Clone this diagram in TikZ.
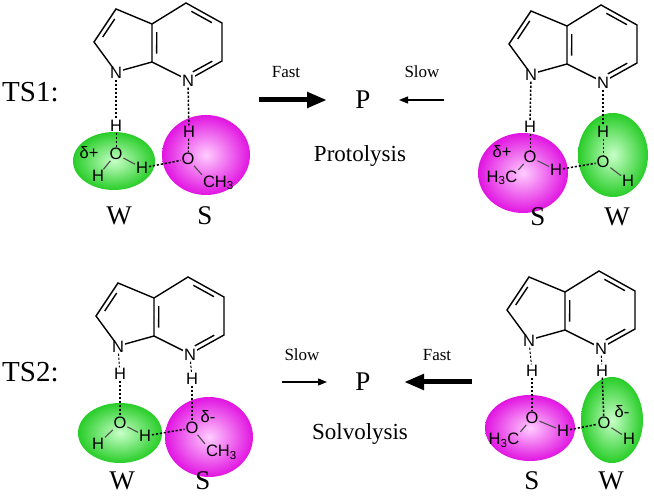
\documentclass[tikz,border=0pt]{standalone}
\usepackage{fontspec}
\setmainfont{Liberation Serif}
\newfontfamily\atomfont{Liberation Sans}
\usetikzlibrary{calc,arrows.meta}
\definecolor{gEdge}{RGB}{40,205,40}
\definecolor{gIn}{RGB}{200,255,200}
\definecolor{pEdge}{RGB}{225,20,225}
\definecolor{pIn}{RGB}{255,205,255}
\tikzset{
  bond/.style={line width=1.4pt,black},
  hb/.style={line width=1.5pt,black,dash pattern=on 2.2pt off 1.8pt},
  cov/.style={line width=1.1pt,black!70},
  atom/.style={font=\atomfont\fontsize{16.5}{16.5}\selectfont,inner sep=0.8pt},
  natom/.style={atom,fill=white},
  lab/.style={font=\fontsize{27}{27}\selectfont,inner sep=0pt},
  ts/.style={font=\fontsize{29}{29}\selectfont,inner sep=0pt},
  rate/.style={font=\fontsize{17}{17}\selectfont,inner sep=0pt},
  proc/.style={font=\fontsize{23}{23}\selectfont,inner sep=0pt},
  wball/.style={inner color=gIn,outer color=gEdge},
  sball/.style={inner color=pIn,outer color=pEdge},
}
\newcommand{\dbl}[3]{\draw[bond] ($(#1)!0.17!(#2)!5pt!(#3)$) -- ($(#2)!0.17!(#1)!5pt!(#3)$);}
\newcommand{\azamol}[1]{%
  \coordinate (#1A) at (186,3);
  \coordinate (#1B) at (222,23);
  \coordinate (#1C) at (222,61);
  \coordinate (#1E) at (152,62);
  \coordinate (#1F) at (152,24);
  \coordinate (#1P1) at (116,9);
  \coordinate (#1P2) at (94,42);
  \coordinate (#1HC) at (187,42);
  \coordinate (#1PC) at (127,40);
  \draw[bond] (#1F) -- (#1A) -- (#1B) -- (#1C) -- (188,80) -- (#1E) -- (#1F) -- (#1P1) -- (#1P2) -- (116,72) -- (#1E);
  \dbl{#1A}{#1B}{#1HC}
  \dbl{#1C}{188,80}{#1HC}
  \dbl{#1E}{#1F}{#1HC}
  \dbl{#1P1}{#1P2}{#1PC}
  \node[natom] (#1N1) at (116,73) {N};
  \node[natom] (#1Nb) at (188,81) {N};
}
\begin{document}
\begin{tikzpicture}[x=1pt,y=-1pt]
\useasboundingbox (0,0) rectangle (654,497);
\fill[white] (0,0) rectangle (654,497);

% ================= TS1 left
\shade[wball] (114,161) ellipse [x radius=41,y radius=29];
\shade[sball] (206,155) ellipse [x radius=44,y radius=40];
\azamol{a}
\node[atom] (aH1) at (116,126) {H};
\node[atom] (aO1) at (116,154) {O};
\node[atom] (aH2) at (98,176) {H};
\node[atom] (aD) at (89,153) {δ+};
\node[atom] (aH3) at (142,168) {H};
\node[atom] (aO2) at (188,159) {O};
\node[atom] (aH4) at (189,132) {H};
\node[atom,anchor=west] (aMe) at (202,183) {CH\textsubscript{3}};
\draw[hb] (aN1) -- (aH1);
\draw[hb] (aNb) -- (aH4);
\draw[hb,line width=1pt] (aH1) -- (aO1);
\draw[hb,line width=1pt] (aH4) -- (aO2);
\draw[cov] (aO1) -- (aH2);
\draw[cov] (aO1) -- (aH3);
\draw[hb] (aH3) -- (aO2);
\draw[cov] (aO2) -- (aMe.north west);
\node[lab] (aW) at (119,216) {W};
\node[lab] (aS) at (205,216) {S};
\node[ts,anchor=west] (ts1) at (2,92) {TS1:};

% ================= TS1 right
\shade[sball] (523,173) ellipse [x radius=45,y radius=40];
\shade[wball] (613,155) ellipse [x radius=35,y radius=42];
\begin{scope}[shift={(415,2)}]\azamol{b}\end{scope}
\node[atom] (bH1) at (530,127) {H};
\node[atom] (bO1) at (530,157) {O};
\node[atom] (bD) at (502,152) {δ+};
\node[atom] (bMe) at (502,178) {H\textsubscript{3}C};
\node[atom] (bH3) at (556,170) {H};
\node[atom] (bO2) at (603,162) {O};
\node[atom] (bH4) at (603,132) {H};
\node[atom] (bH5) at (628,181) {H};
\draw[hb] (bN1) -- (bH1);
\draw[hb] (bNb) -- (bH4);
\draw[hb,line width=1pt] (bH1) -- (bO1);
\draw[hb,line width=1pt] (bH4) -- (bO2);
\draw[cov] (bO1) -- (bMe.north east);
\draw[cov] (bO1) -- (bH3);
\draw[hb] (bH3) -- (bO2);
\draw[cov] (bO2) -- (bH5);
\node[lab] (bS) at (538,217) {S};
\node[lab] (bW) at (617,217) {W};

% ================= TS2 left
\shade[wball] (120,433) ellipse [x radius=42,y radius=30];
\shade[sball] (209,437) ellipse [x radius=44,y radius=40];
\begin{scope}[shift={(2,274)}]\azamol{c}\end{scope}
\node[atom] (cH1) at (120,374) {H};
\node[atom] (cO1) at (120,423) {O};
\node[atom] (cH2) at (98,444) {H};
\node[atom] (cH3) at (145,436) {H};
\node[atom] (cO2) at (192,428) {O};
\node[atom] (cH4) at (192,379) {H};
\node[atom] (cD) at (208,417) {δ-};
\node[atom,anchor=west] (cMe) at (205,452) {CH\textsubscript{3}};
\draw[hb,line width=1pt] (cN1) -- (cH1);
\draw[hb,line width=1pt] (cNb) -- (cH4);
\draw[hb] (cH1) -- (cO1);
\draw[hb] (cH4) -- (cO2);
\draw[cov] (cO1) -- (cH2);
\draw[cov] (cO1) -- (cH3);
\draw[hb] (cH3) -- (cO2);
\draw[cov] (cO2) -- (cMe.north west);
\node[lab] (cW) at (122,481) {W};
\node[lab] (cS) at (203,481) {S};
\node[ts,anchor=west] (ts2) at (2,372) {TS2:};

% ================= TS2 right
\shade[sball] (530,428) ellipse [x radius=45,y radius=33];
\shade[wball] (612,420) ellipse [x radius=31,y radius=43];
\begin{scope}[shift={(413,268)}]\azamol{d}\end{scope}
\node[atom] (dH1) at (532,371) {H};
\node[atom] (dO1) at (532,418) {O};
\node[atom] (dMe) at (504,440) {H\textsubscript{3}C};
\node[atom] (dH3) at (563,431) {H};
\node[atom] (dO2) at (604,423) {O};
\node[atom] (dH4) at (602,371) {H};
\node[atom] (dD) at (622,412) {δ-};
\node[atom] (dH5) at (629,439) {H};
\draw[hb,line width=1pt] (dN1) -- (dH1);
\draw[hb,line width=1pt] (dNb) -- (dH4);
\draw[hb] (dH1) -- (dO1);
\draw[hb] (dH4) -- (dO2);
\draw[cov] (dO1) -- (dMe.north east);
\draw[cov] (dO1) -- (dH3);
\draw[hb] (dH3) -- (dO2);
\draw[cov] (dO2) -- (dH5);
\node[lab] (dS) at (532,481) {S};
\node[lab] (dW) at (611,481) {W};

% ================= middle
\node[rate] (f1) at (286,72) {Fast};
\node[rate] (s1) at (422,72) {Slow};
\node[lab] (P1) at (363,100) {P};
\coordinate (f1a) at (259,100); \coordinate (f1b) at (327,100);
\coordinate (s1a) at (444,100); \coordinate (s1b) at (399,100);
\draw[line width=5pt,-{Triangle[length=20pt,width=15pt]}] (f1a) -- (f1b);
\draw[line width=1.4pt,-{Triangle[length=9pt,width=7pt]}] (s1a) -- (s1b);
\node[proc] (pr) at (360,156) {Protolysis};

\node[rate] (s2) at (302,355) {Slow};
\node[rate] (f2) at (437,355) {Fast};
\node[lab] (P2) at (363,382) {P};
\coordinate (s2a) at (282,382); \coordinate (s2b) at (327,382);
\coordinate (f2a) at (472,382); \coordinate (f2b) at (404,382);
\draw[line width=1.4pt,-{Triangle[length=9pt,width=7pt]}] (s2a) -- (s2b);
\draw[line width=5pt,-{Triangle[length=20pt,width=15pt]}] (f2a) -- (f2b);
\node[proc] (sv) at (360,434) {Solvolysis};
\end{tikzpicture}
\end{document}
